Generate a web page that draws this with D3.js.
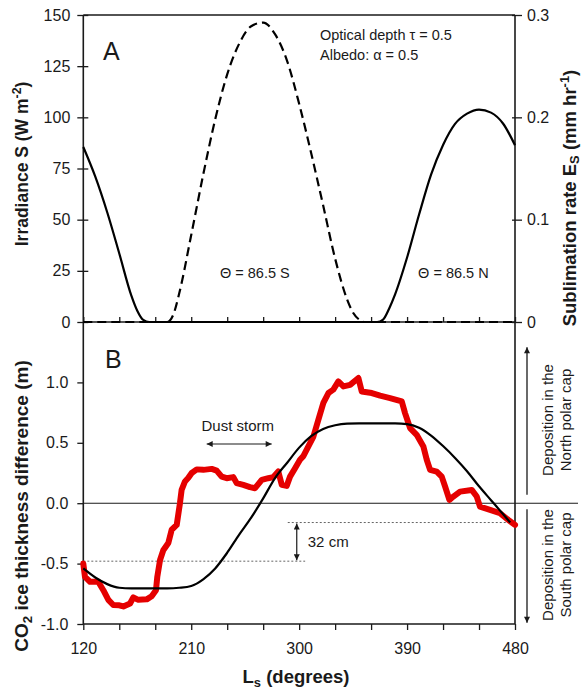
<!DOCTYPE html>
<html>
<head>
<meta charset="utf-8">
<script src="https://cdn.jsdelivr.net/npm/d3@7"></script>
<style>
  body { margin: 0; background: #fff; }
  svg { display: block; }
  text { font-family: "Liberation Sans", Arial, sans-serif; fill: #1a1a1a; }
</style>
</head>
<body>
<svg id="chart" width="584" height="690"></svg>
<script>
// ---- Panel A: daily irradiance at the two polar latitudes ----
const irrLs = [120,130,140,150,160,165,170,175,180,190,195,200,210,220,230,240,250,260,270,280,290,300,310,320,330,340,345,350,355,360,365,370,375,380,390,400,410,420,430,440,450,460,470,480];
const irrNorth = [85.5,71,53.5,33.5,13,5.5,1,0,0,0,0,0,0,0,0,0,0,0,0,0,0,0,0,0,0,0,0,0,0,0,0,1.2,6.5,13.5,31.5,52.5,72,86.5,96.8,101.8,103.8,102.3,97,86.4];
const irrSouth = [0,0,0,0,0,0,0,0,0,0,3.5,14,42.5,72,99,121,136,144.5,146.3,140.5,127.5,106.6,82.6,57,31,11,4.5,1.2,0,0,0,0,0,0,0,0,0,0,0,0,0,0,0,0];

// ---- Panel B: CO2 ice thickness difference ----
const modelLs = [120,130,140,150,160,170,180,190,200,210,220,230,240,250,260,270,280,290,300,310,320,330,340,350,360,370,380,390,400,410,420,430,440,450,460,470,476];
const modelThick = [-0.54,-0.615,-0.67,-0.70,-0.705,-0.705,-0.705,-0.705,-0.70,-0.685,-0.63,-0.54,-0.41,-0.26,-0.12,0.04,0.21,0.335,0.46,0.555,0.615,0.645,0.658,0.66,0.66,0.66,0.66,0.655,0.625,0.56,0.473,0.375,0.265,0.14,0.025,-0.09,-0.16];

const obsLs = [120,121.4,125.6,132.5,136.7,140.9,145,150,153.4,159,161.7,165.9,172.9,177,180.6,181.7,184,186.7,190.9,193.7,197.9,200.6,202,204.8,207.6,210.4,214.6,220.1,227.1,231.2,235.4,239.6,245.1,247.9,253.4,259,263.2,268.8,274.3,278.5,282.6,285.5,289.6,292.4,296.6,300.7,303.5,311.9,316,320.2,324.4,328.5,332.7,336.9,342.5,349.4,352.2,360.6,367.5,375.8,385.6,388.3,392.5,398,403.6,406.4,409.2,414.7,418.9,421.7,425.3,428.6,434.2,443.9,448.1,450.8,459.2,467.5,474.4,480];
const obsThick = [-0.50,-0.61,-0.65,-0.65,-0.72,-0.80,-0.843,-0.845,-0.855,-0.83,-0.78,-0.80,-0.796,-0.77,-0.72,-0.61,-0.47,-0.39,-0.33,-0.22,-0.18,0.0,0.11,0.18,0.21,0.25,0.28,0.276,0.284,0.27,0.22,0.207,0.216,0.166,0.152,0.133,0.124,0.193,0.207,0.216,0.262,0.152,0.143,0.22,0.29,0.36,0.39,0.552,0.69,0.83,0.912,0.94,1.008,0.967,0.98,1.036,0.925,0.912,0.89,0.87,0.842,0.746,0.622,0.566,0.47,0.36,0.276,0.262,0.22,0.138,0.027,0.055,0.096,0.11,0.055,-0.028,-0.055,-0.083,-0.138,-0.18];

// Reference levels of the 32 cm offset
const offsetLevels = [-0.48, -0.16];

// ---- Axis ticks ----
const lsTicks = [120,150,180,210,240,270,300,330,360,390,420,450,480];
const lsTickLabels = [120,210,300,390,480];
const irrTicks = [0,25,50,75,100,125,150];
const rateTicks = [0,0.1,0.2,0.3];
const rateTickLabels = ["0","0.1","0.2","0.3"];
const thickTicks = [-1,-0.5,0,0.5,1];
const thickTickLabels = ["-1.0","-0.5","0.0","0.5","1.0"];

// ---- Layout ----
const X0 = 83.3, X1 = 515, YT = 15, YM = 322, YB = 624;
const svg = d3.select("#chart");

const x = d3.scaleLinear().domain([120, 480]).range([X0, X1]);
const yS = d3.scaleLinear().domain([0, 150]).range([YM, YT]);
const yE = d3.scaleLinear().domain([0, 0.3]).range([YM, YT]);
const yB = d3.scaleLinear().domain([-1, 1.5]).range([YB, YM]);

const ink = "#1a1a1a";

// arrowhead marker
const defs = svg.append("defs");
defs.append("marker")
  .attr("id", "ah").attr("viewBox", "0 0 10 10")
  .attr("refX", 10).attr("refY", 5)
  .attr("markerWidth", 7).attr("markerHeight", 6)
  .attr("markerUnits", "userSpaceOnUse")
  .attr("orient", "auto-start-reverse")
  .append("path").attr("d", "M0,0 L10,5 L0,10 z").attr("fill", ink);

// ---- Axes ----
function styleAxis(g) {
  g.select(".domain").remove();
  g.selectAll(".tick line").attr("stroke", ink).attr("stroke-width", 1.3);
  g.selectAll(".tick text").attr("font-size", 16).attr("fill", "#222")
    .attr("font-family", "Liberation Sans, Arial, sans-serif");
}

// Panel A left
svg.append("g").attr("transform", `translate(${X0},0)`)
  .call(d3.axisLeft(yS).tickValues(irrTicks).tickSize(6).tickPadding(7))
  .call(styleAxis)
  .call(g => g.selectAll(".tick line").attr("x1", 5));

// Panel A right
svg.append("g").attr("transform", `translate(${X1},0)`)
  .call(d3.axisRight(yE).tickValues(rateTicks).tickSize(7).tickPadding(5)
    .tickFormat((d, i) => rateTickLabels[i]))
  .call(styleAxis)
  .call(g => g.selectAll(".tick line").attr("x1", -3));

// Panel A bottom (ticks inward, no labels)
svg.append("g").attr("transform", `translate(0,${YM})`)
  .call(d3.axisTop(x).tickValues(lsTicks).tickSize(5).tickFormat(""))
  .call(styleAxis);

// Panel B left
svg.append("g").attr("transform", `translate(${X0},0)`)
  .call(d3.axisLeft(yB).tickValues(thickTicks).tickSize(6).tickPadding(9)
    .tickFormat((d, i) => thickTickLabels[i]))
  .call(styleAxis);

// Panel B bottom
svg.append("g").attr("transform", `translate(0,${YB})`)
  .call(d3.axisBottom(x).tickValues(lsTicks).tickSize(6).tickPadding(13)
    .tickFormat(d => lsTickLabels.includes(d) ? d : ""))
  .call(styleAxis);

// Frame
const frame = svg.append("g").attr("stroke", ink).attr("stroke-width", 1.6).attr("fill", "none");
frame.append("line").attr("x1", X0).attr("x2", X0).attr("y1", YT).attr("y2", YB);
frame.append("line").attr("x1", X1).attr("x2", X1).attr("y1", YT).attr("y2", YB);
frame.append("line").attr("x1", X0).attr("x2", X1).attr("y1", YT).attr("y2", YT);
frame.append("line").attr("x1", X0).attr("x2", X1).attr("y1", YM).attr("y2", YM);
frame.append("line").attr("x1", X0).attr("x2", X1).attr("y1", YB).attr("y2", YB);

// ---- Panel A curves ----
const irrLine = d3.line().x(d => x(d[0])).y(d => yS(d[1])).curve(d3.curveMonotoneX);
svg.append("path").datum(d3.zip(irrLs, irrSouth)).attr("d", irrLine)
  .attr("fill", "none").attr("stroke", "#000").attr("stroke-width", 2.2)
  .attr("stroke-dasharray", "9,5");
svg.append("path").datum(d3.zip(irrLs, irrNorth)).attr("d", irrLine)
  .attr("fill", "none").attr("stroke", "#000").attr("stroke-width", 2.2);

// Panel A text
svg.append("text").attr("x", 103).attr("y", 60).attr("font-size", 25).text("A");
svg.append("text").attr("x", 320).attr("y", 40).attr("font-size", 14.5).text("Optical depth \u03c4 = 0.5");
svg.append("text").attr("x", 320).attr("y", 60).attr("font-size", 14.5).text("Albedo: \u03b1 = 0.5");
svg.append("text").attr("x", x(234)).attr("y", yS(21.4)).attr("font-size", 14.5).text("\u0398 = 86.5 S");
svg.append("text").attr("x", x(399.2)).attr("y", yS(21.4)).attr("font-size", 14.5).text("\u0398 = 86.5 N");

// ---- Panel B ----
// zero line, extended past the right axis
svg.append("line").attr("x1", X0).attr("x2", 578).attr("y1", yB(0)).attr("y2", yB(0))
  .attr("stroke", ink).attr("stroke-width", 1.1);

// dotted offset levels
svg.append("line").attr("x1", x(120)).attr("x2", x(305)).attr("y1", yB(offsetLevels[0])).attr("y2", yB(offsetLevels[0]))
  .attr("stroke", "#666").attr("stroke-width", 1).attr("stroke-dasharray", "2,2");
svg.append("line").attr("x1", x(290.5)).attr("x2", x(480)).attr("y1", yB(offsetLevels[1])).attr("y2", yB(offsetLevels[1]))
  .attr("stroke", "#666").attr("stroke-width", 1).attr("stroke-dasharray", "2,2");

const thickLine = d3.line().x(d => x(d[0])).y(d => yB(d[1]));

svg.append("path").datum(d3.zip(obsLs, obsThick)).attr("d", thickLine)
  .attr("fill", "none").attr("stroke", "#e50000").attr("stroke-width", 6)
  .attr("stroke-linejoin", "round").attr("stroke-linecap", "round");

svg.append("path").datum(d3.zip(modelLs, modelThick)).attr("d", thickLine.curve(d3.curveMonotoneX))
  .attr("fill", "none").attr("stroke", "#000").attr("stroke-width", 2.2);

// 32 cm arrow
svg.append("line").attr("x1", x(298)).attr("x2", x(298))
  .attr("y1", yB(offsetLevels[1]) + 1).attr("y2", yB(offsetLevels[0]) - 1)
  .attr("stroke", ink).attr("stroke-width", 1.2)
  .attr("marker-start", "url(#ah)").attr("marker-end", "url(#ah)");
svg.append("text").attr("x", x(307.2)).attr("y", yB(-0.32) + 5.5).attr("font-size", 15).text("32 cm");

// dust storm
svg.append("line").attr("x1", x(222.9)).attr("x2", x(277.1)).attr("y1", yB(0.49)).attr("y2", yB(0.49))
  .attr("stroke", ink).attr("stroke-width", 1.2)
  .attr("marker-start", "url(#ah)").attr("marker-end", "url(#ah)");
svg.append("text").attr("x", x(248.8)).attr("y", yB(0.594)).attr("font-size", 15)
  .attr("text-anchor", "middle").text("Dust storm");

svg.append("text").attr("x", 105).attr("y", 368).attr("font-size", 25).text("B");

// deposition arrows & labels on the right
svg.append("line").attr("x1", X1 + 12).attr("x2", X1 + 12).attr("y1", yB(0.07)).attr("y2", yB(1.29))
  .attr("stroke", ink).attr("stroke-width", 1.3).attr("marker-end", "url(#ah)");
svg.append("line").attr("x1", X1 + 12).attr("x2", X1 + 12).attr("y1", yB(-0.05)).attr("y2", yB(-0.99))
  .attr("stroke", ink).attr("stroke-width", 1.3).attr("marker-end", "url(#ah)");

function sideLabel(cy, lines) {
  lines.forEach((t, i) => {
    svg.append("text")
      .attr("transform", `translate(${553 + i * 18},${cy}) rotate(-90)`)
      .attr("text-anchor", "middle").attr("font-size", 15).text(t);
  });
}
sideLabel(420, ["Deposition in the", "North polar cap"]);
sideLabel(565, ["Deposition in the", "South polar cap"]);

// ---- Axis titles ----
function title(tx, ty, rot, size, parts) {
  const t = svg.append("text")
    .attr("transform", `translate(${tx},${ty}) rotate(${rot})`)
    .attr("text-anchor", "middle").attr("font-size", size).attr("font-weight", "bold");
  parts.forEach(p => {
    const s = t.append("tspan").text(p.t);
    if (p.sub) s.attr("font-size", size * 0.7).attr("dy", p.sub);
    if (p.sup) s.attr("font-size", size * 0.7).attr("dy", -7);
    if (p.back) s.attr("dy", p.back);
  });
}
title(28, 164, -90, 17.5, [{t: "Irradiance S (W m"}, {t: "-2", sup: true}, {t: ")", back: 7}]);
title(28, 506, -90, 19, [{t: "CO"}, {t: "2", sub: 4}, {t: " ice thickness difference (m)", back: -4}]);
title(576, 198, -90, 18.5, [{t: "Sublimation rate E"}, {t: "S", sub: 3}, {t: " (mm hr", back: -3}, {t: "-1", sup: true}, {t: ")", back: 7}]);
title(296, 683, 0, 18.5, [{t: "L"}, {t: "s", sub: 4}, {t: " (degrees)", back: -4}]);
</script>
</body>
</html>
